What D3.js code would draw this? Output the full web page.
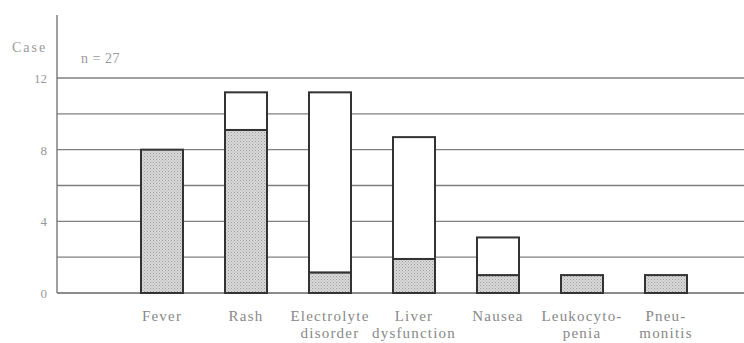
<!DOCTYPE html>
<html lang="en">
<head>
  <meta charset="UTF-8">
  <title>Adverse events</title>
  <script src="https://cdn.jsdelivr.net/npm/d3@7/dist/d3.min.js"></script>
  <style>
    body { margin: 0; background: #fff; }
    svg { display: block; }
  </style>
</head>
<body>
<div id="chart"></div>
<script>
  // categories (two-line labels)
  const categories = ['Fever', 'Rash', 'Electrolyte disorder', 'Liver dysfunction', 'Nausea', 'Leukocytopenia', 'Pneumonitis'];
  const labelLines = [['Fever'], ['Rash'], ['Electrolyte', 'disorder'], ['Liver', 'dysfunction'], ['Nausea'], ['Leukocyto-', 'penia'], ['Pneu-', 'monitis']];
  // shaded part and white part of each bar (cases)
  const shadedCases = [8, 9.1, 1.15, 1.9, 1, 1, 1];
  const whiteCases = [0, 2.1, 10.05, 6.8, 2.1, 0, 0];
  const tickLabels = [0, 4, 8, 12];
  const gridValues = [2, 4, 6, 8, 10, 12];

  const width = 744, height = 343;
  const x0 = 57, y0 = 293;
  const serif = 'Liberation Serif';

  const svg = d3.select('#chart').append('svg')
    .attr('width', width)
    .attr('height', height);

  // dotted fill for the shaded part
  const pat = svg.append('defs').append('pattern')
    .attr('id', 'dots')
    .attr('width', 3).attr('height', 3)
    .attr('patternUnits', 'userSpaceOnUse');
  pat.append('rect').attr('width', 3).attr('height', 3).attr('fill', '#d9d9d9');
  pat.append('rect').attr('width', 1).attr('height', 1).attr('fill', '#9e9e9e');
  pat.append('rect').attr('x', 1.5).attr('y', 1.5).attr('width', 1).attr('height', 1).attr('fill', '#ababab');

  const x = d3.scaleBand()
    .domain(categories)
    .range([x0, x0 + 84 * 8.5])
    .paddingInner(0.5)
    .paddingOuter(1);

  const y = d3.scaleLinear()
    .domain([0, 12])
    .range([y0, 78]);

  // grid lines
  svg.append('g').selectAll('line')
    .data(gridValues)
    .join('line')
    .attr('x1', x0).attr('x2', width)
    .attr('y1', d => y(d)).attr('y2', d => y(d))
    .attr('stroke', '#808080')
    .attr('stroke-width', 1.3);

  // baseline + y axis line
  svg.append('line')
    .attr('x1', x0).attr('x2', width)
    .attr('y1', y0).attr('y2', y0)
    .attr('stroke', '#666').attr('stroke-width', 1.6);
  svg.append('line')
    .attr('x1', x0).attr('x2', x0)
    .attr('y1', 15).attr('y2', y0)
    .attr('stroke', '#777').attr('stroke-width', 1.4);

  // tick labels
  svg.append('g').selectAll('text')
    .data(tickLabels)
    .join('text')
    .attr('x', 47)
    .attr('y', d => y(d) + 5)
    .attr('text-anchor', 'end')
    .attr('font-family', serif)
    .attr('font-size', 13)
    .attr('fill', '#999')
    .text(d => d);

  svg.append('text')
    .attr('x', 12).attr('y', 52)
    .attr('font-family', serif)
    .attr('font-size', 14)
    .attr('letter-spacing', 2)
    .attr('fill', '#999')
    .text('Case');

  svg.append('text')
    .attr('x', 81).attr('y', 63)
    .attr('font-family', serif)
    .attr('font-size', 14)
    .attr('letter-spacing', 0.5)
    .attr('fill', '#999')
    .text('n = 27');

  // stacked bars
  const rows = categories.map((c, i) => ({ cat: c, shaded: shadedCases[i], white: whiteCases[i] }));
  const stack = d3.stack().keys(['shaded', 'white'])(rows);

  svg.append('g').selectAll('g')
    .data(stack)
    .join('g')
    .attr('fill', d => d.key === 'shaded' ? 'url(#dots)' : '#fff')
    .selectAll('rect')
    .data(d => d.filter(s => s[1] - s[0] > 0))
    .join('rect')
    .attr('x', d => x(d.data.cat))
    .attr('width', x.bandwidth())
    .attr('y', d => y(d[1]))
    .attr('height', d => y(d[0]) - y(d[1]))
    .attr('stroke', '#333')
    .attr('stroke-width', 2);

  // category labels
  const lab = svg.append('g').selectAll('text')
    .data(categories)
    .join('text')
    .attr('text-anchor', 'middle')
    .attr('font-family', serif)
    .attr('font-size', 15)
    .attr('letter-spacing', 1.2)
    .attr('fill', '#888');
  lab.selectAll('tspan')
    .data((d, i) => labelLines[i].map(t => ({ t, c: d })))
    .join('tspan')
    .attr('x', d => x(d.c) + x.bandwidth() / 2)
    .attr('y', (d, j) => 321 + j * 17)
    .text(d => d.t);
</script>
</body>
</html>
